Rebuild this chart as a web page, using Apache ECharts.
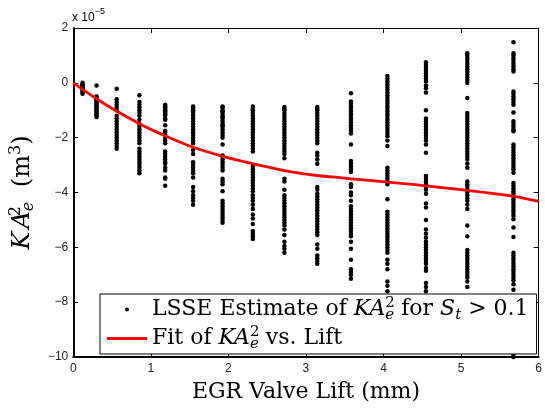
<!DOCTYPE html>
<html><head><meta charset="utf-8">
<script src="https://cdn.jsdelivr.net/npm/echarts@6/dist/echarts.min.js"></script>
<style>html,body{margin:0;padding:0;background:#fff}#c{width:545px;height:411px}</style>
</head><body><div id="c"></div>
<script>
// EGR valve lift positions (mm) of the measurement columns
const lifts = [0.12, 0.30, 0.56, 0.853, 1.185, 1.545, 1.925, 2.315, 2.722, 3.146, 3.58, 4.05, 4.547, 5.08, 5.675];
// LSSE estimates of KA_e^2 (units of 1e-5 m^3), one list per lift column
const est0 = [0, -0.05, -0.1, -0.15, -0.2, -0.25, -0.3, -0.35, -0.4, -0.1, -0.2];
const est1 = [-0.1, -0.5, -0.55, -0.6, -0.65, -0.7, -0.75, -0.8, -0.85, -0.9, -0.95, -1.0, -1.05, -1.1, -1.15, -1.2, -1.25];
const est2 = [-0.22, -0.6, -0.7, -0.8, -0.9, -1.0, -1.2, -1.3, -1.4, -1.5, -1.6, -1.7, -1.8, -1.9, -2.0, -2.1, -2.2, -2.3, -2.4];
const est3 = [-0.45, -0.7, -0.8, -0.9, -1.0, -1.1, -1.2, -1.35, -1.5, -1.6, -1.7, -1.8, -1.9, -2.0, -2.1, -2.2, -2.4, -2.5, -2.6, -2.7, -2.8, -2.9, -3.0, -3.1, -3.2, -3.3];
const est4 = [-0.8, -0.85, -0.9, -0.95, -1.0, -1.05, -1.1, -1.15, -1.2, -1.3, -1.35, -1.55, -1.75, -1.8, -1.9, -2.0, -2.1, -2.2, -2.5, -2.6, -2.7, -2.8, -2.9, -2.95, -3.1, -3.2, -3.45, -3.5, -3.75];
const est5 = [-0.86, -0.9, -0.95, -1.0, -1.05, -1.1, -1.2, -1.3, -1.4, -1.5, -1.6, -1.7, -1.8, -1.9, -2.0, -2.1, -2.2, -2.45, -2.6, -2.9, -3.0, -3.1, -3.2, -3.3, -3.45, -3.8, -3.95, -4.1, -4.2, -4.3, -4.45];
const est6 = [-0.86, -0.9, -1.0, -1.05, -1.1, -1.2, -1.25, -1.3, -1.4, -1.5, -1.55, -1.6, -1.7, -1.8, -1.9, -2.0, -2.25, -2.65, -2.7, -2.8, -2.9, -3.0, -3.1, -3.2, -3.5, -3.6, -3.7, -3.95, -4.3, -4.4, -4.5, -4.6, -4.7, -4.8, -4.9, -5.0, -5.1];
const est7 = [-0.86, -0.95, -1.0, -1.1, -1.2, -1.3, -1.4, -1.5, -1.6, -1.7, -1.8, -1.9, -2.0, -2.1, -2.2, -2.3, -2.4, -2.5, -3.05, -3.15, -3.25, -3.35, -3.45, -3.55, -3.65, -3.75, -3.85, -3.95, -4.1, -4.2, -4.3, -4.45, -4.6, -4.8, -4.95, -5.15, -5.4, -5.5, -5.6, -5.7];
const est8 = [-0.88, -0.95, -1.0, -1.1, -1.2, -1.3, -1.4, -1.5, -1.6, -1.7, -1.8, -1.9, -2.0, -2.1, -2.2, -2.3, -2.4, -2.5, -2.6, -2.75, -3.5, -3.6, -3.9, -4.1, -4.2, -4.3, -4.4, -4.5, -4.6, -4.7, -4.8, -4.9, -5.0, -5.1, -5.2, -5.35, -5.55, -5.8, -5.95, -6.05, -6.2];
const est9 = [-0.88, -0.95, -1.0, -1.1, -1.2, -1.3, -1.4, -1.5, -1.6, -1.7, -1.8, -1.9, -2.0, -2.1, -2.2, -2.55, -2.65, -2.8, -2.95, -3.8, -3.9, -4.05, -4.15, -4.25, -4.35, -4.45, -4.55, -4.65, -4.75, -4.85, -4.95, -5.05, -5.15, -5.25, -5.35, -5.45, -5.55, -5.9, -6.05, -6.3, -6.4, -6.5, -6.6];
const est10 = [-0.38, -0.68, -0.75, -0.85, -0.95, -1.05, -1.15, -1.25, -1.35, -1.45, -1.55, -1.65, -1.75, -1.85, -2.25, -2.85, -2.95, -3.05, -3.15, -3.25, -3.7, -3.8, -4.0, -4.1, -4.3, -4.5, -4.6, -4.7, -4.8, -4.9, -5.0, -5.1, -5.2, -5.3, -5.4, -5.5, -5.6, -5.8, -6.05, -6.45, -6.8, -6.9, -7.0, -7.15];
const est11 = [0.25, 0.15, 0.05, -0.05, -0.15, -0.25, -0.35, -0.45, -0.55, -0.65, -0.75, -0.85, -0.95, -1.05, -1.15, -1.25, -1.35, -1.45, -1.55, -1.65, -1.75, -1.85, -1.95, -2.1, -2.3, -3.1, -3.2, -3.3, -3.4, -3.5, -3.6, -3.7, -4.25, -4.7, -4.8, -4.9, -5.0, -5.1, -5.2, -5.3, -5.4, -5.5, -5.6, -5.7, -5.8, -5.9, -6.0, -6.1, -6.2, -6.45, -6.6, -6.8, -7.25, -7.4, -7.6];
const est12 = [0.75, 0.65, 0.55, 0.45, 0.35, 0.25, 0.15, 0.05, -0.1, -0.2, -0.35, -1.0, -1.3, -1.4, -1.5, -1.6, -1.7, -1.8, -1.9, -2.0, -2.1, -2.25, -2.55, -3.4, -3.5, -3.6, -3.7, -3.8, -3.9, -4.05, -4.4, -4.55, -5.0, -5.35, -5.5, -5.65, -5.8, -5.9, -6.0, -6.1, -6.2, -6.3, -6.4, -6.5, -6.6, -6.75, -6.85, -7.3, -7.45, -7.6];
const est13 = [1.08, 1.0, 0.9, 0.8, 0.7, 0.6, 0.5, 0.4, 0.3, 0.2, 0.1, 0.0, -0.55, -1.1, -1.2, -1.3, -1.4, -1.5, -1.6, -1.7, -1.8, -1.9, -2.0, -2.1, -2.2, -2.3, -2.4, -2.5, -2.6, -2.7, -2.8, -2.95, -3.1, -3.6, -3.7, -3.8, -3.9, -4.0, -4.1, -4.2, -4.3, -4.45, -4.6, -5.2, -5.6, -6.1, -6.2, -6.3, -6.4, -6.5, -6.6, -6.7, -6.8, -6.9, -7.0, -7.1, -7.25, -7.45];
const est14 = [1.48, 1.08, 1.0, 0.9, 0.8, 0.7, 0.6, 0.5, 0.41, -0.32, -0.4, -0.5, -0.6, -0.7, -0.8, -1.08, -1.4, -1.5, -1.6, -1.7, -1.77, -2.25, -2.35, -2.45, -2.55, -2.65, -2.75, -2.85, -2.95, -3.05, -3.15, -3.28, -3.65, -3.75, -3.85, -3.95, -4.05, -4.15, -4.25, -4.35, -4.45, -4.55, -4.65, -4.75, -4.85, -4.98, -5.28, -5.62, -6.2, -6.3, -6.4, -6.5, -6.6, -6.7, -6.8, -6.9, -7.0, -7.1, -7.2, -7.35, -7.55, -7.8, -8.0, -8.5, -9.0, -9.5, -9.8, -9.9, -10.0];
const estimates = [est0, est1, est2, est3, est4, est5, est6, est7, est8, est9, est10, est11, est12, est13, est14];
// fitted curve KA_e^2 vs lift
const fitLift = [0, 0.3, 0.557, 0.853, 1.057, 1.185, 1.545, 1.927, 2.18, 2.32, 2.72, 3.146, 3.41, 3.58, 4.05, 4.41, 4.55, 5.08, 5.67, 6.0];
const fitKA   = [0, -0.58, -1.03, -1.49, -1.77, -1.93, -2.35, -2.68, -2.86, -2.96, -3.2, -3.38, -3.45, -3.5, -3.62, -3.71, -3.76, -3.92, -4.13, -4.32];
// axis ticks
const xTicks = [0, 1, 2, 3, 4, 5, 6];
const yTicks = [-10, -8, -6, -4, -2, 0, 2];

const scatterData = [];
estimates.forEach((col, i) => col.forEach(v => scatterData.push([lifts[i], v])));
const fitData = fitLift.map((x, i) => [x, fitKA[i]]);

const serif = 'DejaVu Serif';
const sans = 'Liberation Sans';
const rich = {
  r: {fontFamily: serif, fontSize: 22, lineHeight: 26, color: '#000'},
  i: {fontFamily: serif, fontSize: 22, lineHeight: 26, color: '#000', fontStyle: 'italic'},
  sup: {fontFamily: serif, fontSize: 15, lineHeight: 14, color: '#000', padding: [0, 0, 12, 0], width: 0},
  sub: {fontFamily: serif, fontSize: 15, lineHeight: 14, color: '#000', fontStyle: 'italic', padding: [12, 0, 0, 0]}
};
const yRich = {
  r: {fontFamily: serif, fontSize: 24, lineHeight: 28, color: '#000'},
  p: {fontFamily: serif, fontSize: 24, lineHeight: 28, color: '#000', padding: [0, 0, 0, 7]},
  i: {fontFamily: serif, fontSize: 24, lineHeight: 28, color: '#000', fontStyle: 'italic'},
  a: {fontFamily: serif, fontSize: 24, lineHeight: 28, color: '#000', fontStyle: 'italic', padding: [0, 0, 0, 3]},
  sup: {fontFamily: serif, fontSize: 16, lineHeight: 16, color: '#000', padding: [0, 0, 13, 0], width: 0},
  sup2: {fontFamily: serif, fontSize: 16, lineHeight: 16, color: '#000', padding: [0, 0, 13, 0]},
  sub: {fontFamily: serif, fontSize: 16, lineHeight: 16, color: '#000', fontStyle: 'italic', padding: [13, 0, 0, 0]}
};
const name1 = 'LSSE Estimate of KA_e^2 for S_t > 0.1';
const name2 = 'Fit of KA_e^2 vs. Lift';
const legendText = {};
legendText[name1] = '{r|LSSE Estimate of }{i|KA}{sup|2}{sub|e}{r| for }{i|S}{sub|t}{r| > 0.1}';
legendText[name2] = '{r|Fit of }{i|KA}{sup|2}{sub|e}{r| vs. Lift}';

const axisCommon = {
  type: 'value', splitLine: {show: false},
  axisTick: {inside: true, length: 5, lineStyle: {color: '#000', width: 1}}
};

const chart = echarts.init(document.getElementById('c'), null, {renderer: 'canvas'});
chart.setOption({
  animation: false,
  backgroundColor: '#fff',
  grid: {left: 72, right: 2, top: 28, bottom: 54, containLabel: false},
  xAxis: [
    Object.assign({}, axisCommon, {
      min: xTicks[0], max: xTicks[xTicks.length - 1], interval: 1, position: 'bottom',
      axisLine: {onZero: false, lineStyle: {color: '#000', width: 2}},
      axisLabel: {color: '#222', fontFamily: sans, fontSize: 12, margin: 6, showMinLabel: true, showMaxLabel: true},
      name: 'EGR Valve Lift (mm)', nameLocation: 'middle', nameGap: 24,
      nameTextStyle: {fontFamily: serif, fontSize: 22, color: '#000'}
    }),
    Object.assign({}, axisCommon, {
      min: xTicks[0], max: xTicks[xTicks.length - 1], interval: 1, position: 'top',
      axisLine: {onZero: false, lineStyle: {color: '#000', width: 1}},
      axisLabel: {show: false}
    })
  ],
  yAxis: [
    Object.assign({}, axisCommon, {
      min: yTicks[0], max: yTicks[yTicks.length - 1], interval: 2, position: 'left',
      axisLine: {onZero: false, lineStyle: {color: '#000', width: 2}},
      axisLabel: {color: '#222', fontFamily: sans, fontSize: 12, margin: 5, showMinLabel: true, showMaxLabel: true,
        formatter: v => (v < 0 ? '\u2212' + Math.abs(v) : String(v))},
      name: '{i|K}{a|A}{sup|2}{sub|e}{p| (m}{sup2|3}{r|)}', nameLocation: 'middle', nameGap: 34, nameRotate: 90,
      nameTextStyle: {rich: yRich}
    }),
    Object.assign({}, axisCommon, {
      min: yTicks[0], max: yTicks[yTicks.length - 1], interval: 2, position: 'right',
      axisLine: {onZero: false, lineStyle: {color: '#000', width: 1}},
      axisLabel: {show: false}
    })
  ],
  legend: {
    orient: 'vertical', left: 100, top: 294, padding: [2, 8, 2, 7], itemGap: 2,
    itemWidth: 40, itemHeight: 14, backgroundColor: '#fff', borderColor: '#000', borderWidth: 1,
    selectedMode: false,
    data: [
      {name: name1, icon: 'path://M0,0M40,14M18,7A2,2,0,1,1,22,7A2,2,0,1,1,18,7Z'},
      {name: name2, icon: 'path://M0,0M40,14M0,5.6L40,5.6L40,8.4L0,8.4Z'}
    ],
    formatter: n => legendText[n],
    textStyle: {rich: rich}
  },
  graphic: [{
    type: 'text', left: 72, top: 6,
    style: {text: '{a|x 10}{b|\u22125}', rich: {
      a: {fontFamily: sans, fontSize: 12, lineHeight: 16, color: '#222', padding: [6, 0, 0, 0]},
      b: {fontFamily: sans, fontSize: 9, lineHeight: 12, color: '#222', padding: [0, 0, 6, 0]}
    }}
  }],
  series: [
    {name: name1, type: 'scatter', data: scatterData, symbolSize: 4.5, itemStyle: {color: '#000', opacity: 1}, z: 2},
    {name: name2, type: 'line', data: fitData, smooth: 0.2, symbol: 'none', showSymbol: false,
      lineStyle: {color: '#ff0000', width: 2.8}, itemStyle: {color: '#ff0000'}, z: 3}
  ]
});
</script></body></html>
